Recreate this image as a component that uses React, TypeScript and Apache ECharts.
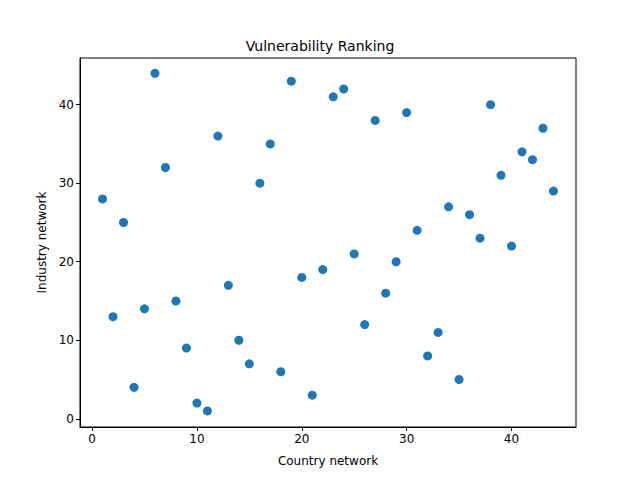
import { useEffect, useRef } from 'react'
import * as echarts from 'echarts'

const countryRank = [
  1, 2, 3, 4, 5, 6, 7, 8, 9, 10, 11, 12, 13, 14, 15, 16, 17, 18, 19, 20, 21, 22,
  23, 24, 25, 26, 27, 28, 29, 30, 31, 32, 33, 34, 35, 36, 37, 38, 39, 40, 41, 42, 43, 44,
]
const industryRank = [
  28, 13, 25, 4, 14, 44, 32, 15, 9, 2, 1, 36, 17, 10, 7, 30, 35, 6, 43, 18, 3, 19,
  41, 42, 21, 12, 38, 16, 20, 39, 24, 8, 11, 27, 5, 26, 23, 40, 31, 22, 34, 33, 37, 29,
]
const xTicks = [0, 10, 20, 30, 40]
const yTicks = [0, 10, 20, 30, 40]

const font = 'DejaVu Sans'

export default function App() {
  const elRef = useRef<HTMLDivElement>(null)

  useEffect(() => {
    document.body.style.margin = '0'
    if (!elRef.current) return
    const chart = echarts.init(elRef.current, null, { renderer: 'svg' })
    const axisCommon = {
      axisLine: { show: true, onZero: false, lineStyle: { color: '#000' } },
      axisTick: { show: true, inside: false, length: 4, lineStyle: { color: '#000' } },
      axisLabel: { color: '#000', fontFamily: font, fontSize: 12 },
      splitLine: { show: false },
      nameLocation: 'middle' as const,
      nameTextStyle: { color: '#000', fontFamily: font, fontSize: 12 },
    }
    chart.setOption({
      animation: false,
      title: {
        text: 'Vulnerability Ranking',
        left: 'center',
        top: 34,
        textStyle: { fontFamily: font, fontSize: 14, fontWeight: 'normal', color: '#000' },
      },
      grid: { left: 80, right: 64, top: 58, bottom: 53, show: true, borderColor: '#000', borderWidth: 1 },
      xAxis: {
        ...axisCommon,
        type: 'value',
        min: -1.15,
        max: 46.15,
        name: 'Country network',
        nameGap: 28,
        axisTick: { ...axisCommon.axisTick, customValues: xTicks },
        axisLabel: { ...axisCommon.axisLabel, customValues: xTicks, margin: 6 },
      },
      yAxis: {
        ...axisCommon,
        type: 'value',
        min: -1.05,
        max: 45.95,
        name: 'Industry network',
        nameGap: 32,
        axisTick: { ...axisCommon.axisTick, customValues: yTicks },
        axisLabel: { ...axisCommon.axisLabel, customValues: yTicks, margin: 6 },
      },
      series: [
        {
          type: 'scatter',
          data: countryRank.map((x, i) => [x, industryRank[i]]),
          symbolSize: 9,
          itemStyle: { color: '#1f77b4', opacity: 1 },
        },
      ],
    })
    return () => chart.dispose()
  }, [])

  return <div ref={elRef} style={{ width: 640, height: 480 }} />
}
